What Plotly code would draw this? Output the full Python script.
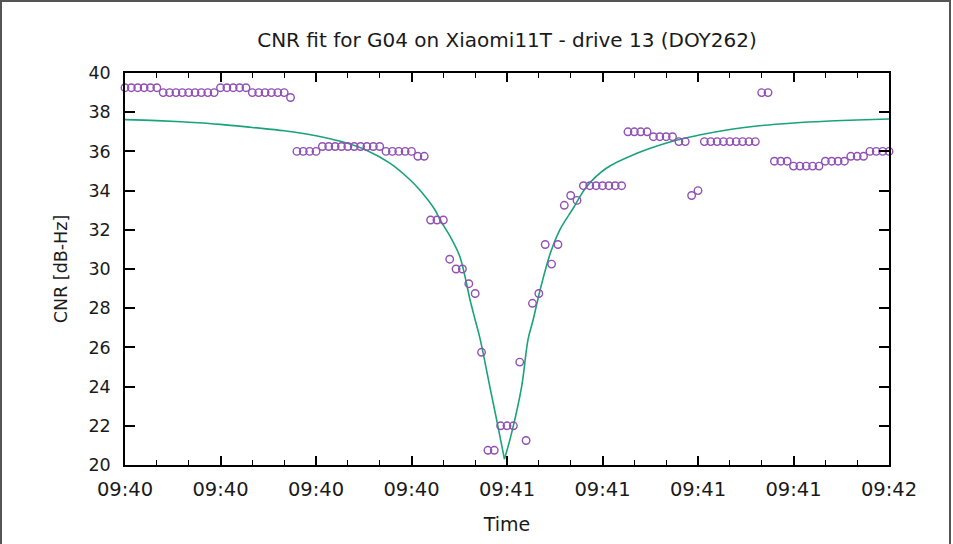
import plotly.graph_objects as go
from datetime import datetime, timedelta

# ---------------- data ----------------
start = datetime(2021, 9, 19, 9, 40, 0)  # DOY 262

# observation offsets (s) from 09:40:00 and measured CNR (dB-Hz)
obs_sec = list(range(0, 121))
obs_cnr = [
    39.25, 39.25, 39.25, 39.25, 39.25, 39.25,
    39.0, 39.0, 39.0, 39.0, 39.0, 39.0, 39.0, 39.0, 39.0,
    39.25, 39.25, 39.25, 39.25, 39.25,
    39.0, 39.0, 39.0, 39.0, 39.0, 39.0,
    38.75,
    36.0, 36.0, 36.0, 36.0,
    36.25, 36.25, 36.25, 36.25, 36.25, 36.25, 36.25, 36.25, 36.25, 36.25,
    36.0, 36.0, 36.0, 36.0, 36.0,
    35.75, 35.75,
    32.5, 32.5, 32.5,
    30.5,
    30.0, 30.0,
    29.25,
    28.75,
    25.75,
    20.75, 20.75,
    22.0, 22.0, 22.0,
    25.25,
    21.25,
    28.25,
    28.75,
    31.25,
    30.25,
    31.25,
    33.25,
    33.75,
    33.5,
    34.25, 34.25, 34.25, 34.25, 34.25, 34.25, 34.25,
    37.0, 37.0, 37.0, 37.0,
    36.75, 36.75, 36.75, 36.75,
    36.5, 36.5,
    33.75,
    34.0,
    36.5, 36.5, 36.5, 36.5, 36.5, 36.5, 36.5, 36.5, 36.5,
    39.0, 39.0,
    35.5, 35.5, 35.5,
    35.25, 35.25, 35.25, 35.25, 35.25,
    35.5, 35.5, 35.5, 35.5,
    35.75, 35.75, 35.75,
    36.0, 36.0, 36.0, 36.0,
]

# fitted curve
fit_sec = [0, 5, 10, 15, 20, 25, 30, 34, 38, 41.6, 44.8, 46.3, 48.7, 49.5, 51,
           52.6, 54.2, 55.0, 55.8, 57.3, 58.5, 59.6, 60.7, 62.3, 63.3, 64.1,
           65.2, 66.8, 68.3, 70.4, 72.5, 75.6, 80.4, 85.6, 90, 95, 100,
           105, 110, 115, 120]
fit_cnr = [37.62, 37.57, 37.49, 37.38, 37.22, 37.05, 36.80, 36.50, 36.05,
           35.40, 34.54, 34.03, 33.01, 32.50, 31.70, 30.63, 28.42, 27.40,
           26.40, 24.00, 22.10, 20.30, 21.60, 24.00, 26.40, 27.40, 28.93,
           30.80, 32.00, 33.10, 34.20, 35.14, 35.90, 36.48, 36.82, 37.12,
           37.32, 37.45, 37.54, 37.60, 37.65]

y_ticks = [20, 22, 24, 26, 28, 30, 32, 34, 36, 38, 40]

title_text = "CNR fit for G04 on Xiaomi11T - drive 13 (DOY262)"
x_title = "Time"
y_title = "CNR [dB-Hz]"

# ---------------- figure ----------------
obs_t = [start + timedelta(seconds=s) for s in obs_sec]
fit_t = [start + timedelta(seconds=s) for s in fit_sec]
imin = fit_cnr.index(min(fit_cnr))

W, H = 953, 544
ML, MR, MT, MB = 125, 64, 73, 79
FONT = "DejaVu Sans"
TXT = "#1a1a1a"
GREEN = "#1aa37a"

fig = go.Figure()
# fitted curve drawn as two smooth branches meeting at the sharp minimum
for sl in (slice(0, imin + 1), slice(imin, None)):
    fig.add_trace(go.Scatter(
        x=fit_t[sl], y=fit_cnr[sl], mode="lines",
        line=dict(color=GREEN, width=1.6, shape="spline", smoothing=1.0),
        showlegend=False, hoverinfo="skip"))
fig.add_trace(go.Scatter(
    x=obs_t, y=obs_cnr, mode="markers",
    marker=dict(symbol="circle-open", size=7.5, color="#9150b4",
                line=dict(width=1.4, color="#9150b4")),
    cliponaxis=False, showlegend=False))

pw = W - ML - MR
ph = H - MT - MB
def px(x):
    return (x - ML) / pw
def py(y):
    return (H - MB - y) / ph

fig.add_shape(type="path",
              path=f"M {px(1)} {py(H)} L {px(1)} {py(1)} L {px(950)} {py(1)} L {px(950)} {py(H)}",
              xref="paper", yref="paper",
              line=dict(color="#555555", width=2))

fig.update_layout(
    width=W, height=H,
    margin=dict(l=ML, r=MR, t=MT, b=MB, pad=0),
    paper_bgcolor="white", plot_bgcolor="white",
    font=dict(family=FONT, color=TXT, size=17),
    title=dict(text=title_text, x=(ML + pw / 2) / W, xanchor="center",
               y=1 - 40 / H, yanchor="middle",
               font=dict(family=FONT, size=20, color=TXT)),
)
fig.update_xaxes(
    type="date",
    range=[start, start + timedelta(seconds=120)],
    tickformat="%H:%M", dtick=15000, tick0=start,
    ticks="inside", ticklen=9, tickwidth=1.5, tickcolor="black",
    minor=dict(dtick=5000, ticks="inside", ticklen=5, tickwidth=1.2, tickcolor="black", showgrid=False),
    showline=True, linecolor="black", linewidth=1.5, mirror="ticks",
    showgrid=False, zeroline=False,
    tickfont=dict(family=FONT, size=19.5, color=TXT),
    ticklabelstandoff=6,
    title=dict(text=x_title, font=dict(family=FONT, size=19, color=TXT), standoff=18),
)
fig.update_yaxes(
    range=[20, 40], tickvals=y_ticks,
    ticks="inside", ticklen=10, tickwidth=1.5, tickcolor="black",
    showline=True, linecolor="black", linewidth=1.5, mirror="ticks",
    showgrid=False, zeroline=False,
    tickfont=dict(family=FONT, size=17.5, color=TXT),
    ticklabelstandoff=9,
    title=dict(text=y_title, font=dict(family=FONT, size=17.5, color=TXT), standoff=16),
)

fig.write_html("out.html")
